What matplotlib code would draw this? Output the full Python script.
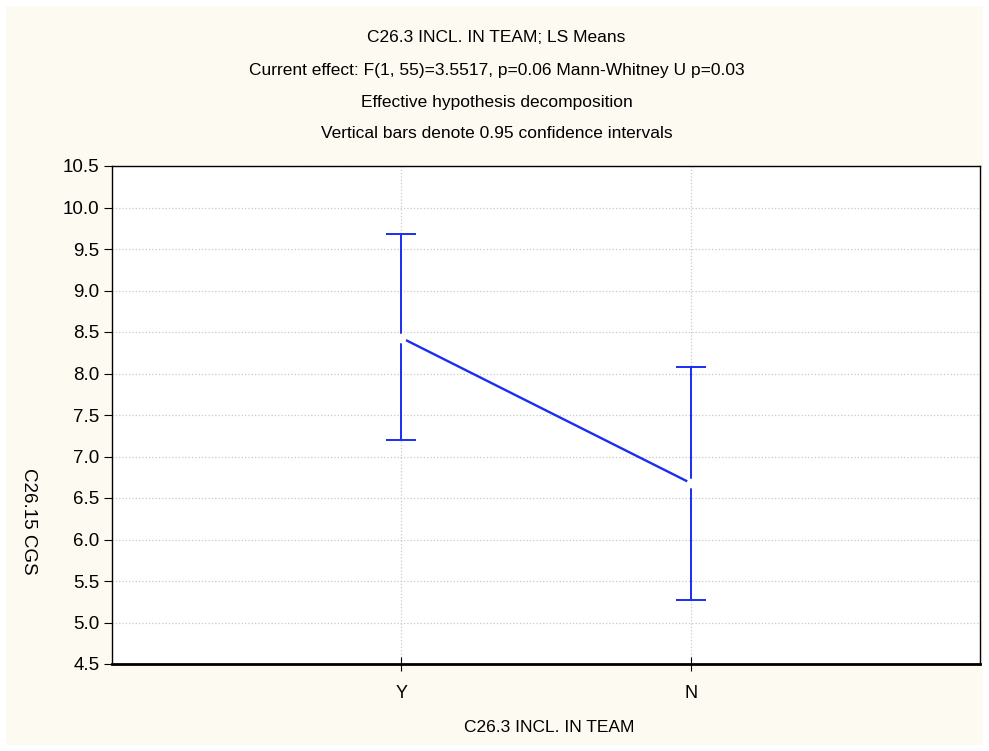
import matplotlib.pyplot as plt
import numpy as np

plt.rcParams['font.family'] = ['Liberation Sans', 'DejaVu Sans']

# data
groups = ['Y', 'N']
means = np.array([8.43, 6.68])
upper = np.array([9.68, 8.08])
lower = np.array([7.20, 5.27])

title_lines = ['C26.3 INCL. IN TEAM; LS Means',
               'Current effect: F(1, 55)=3.5517, p=0.06 Mann-Whitney U p=0.03',
               'Effective hypothesis decomposition',
               'Vertical bars denote 0.95 confidence intervals']

W, H = 989, 751
fig = plt.figure(figsize=(W / 100, H / 100), dpi=100)
fig.patch.set_facecolor('white')
# cream panel behind everything
bg = plt.Rectangle((6 / W, 6 / H), 1 - 12 / W, 1 - 12 / H, transform=fig.transFigure,
                   facecolor='#fdfaf1', edgecolor='none', zorder=-10)
fig.patches.append(bg)

ax = fig.add_axes([112 / W, 1 - 664 / H, (980 - 112) / W, (664 - 166) / H])
ax.set_facecolor('white')

x = np.arange(len(groups))
blue = '#1a2ef0'
ax.errorbar(x, means, yerr=[means - lower, upper - means], fmt='none',
            ecolor=blue, elinewidth=1.4, capsize=10.8, capthick=1.4, zorder=3)
ax.plot(x, means, color=blue, lw=1.7, zorder=4)
ax.plot(x, means, 'o', ms=6, mfc='white', mec='white', zorder=5)

ax.set_xlim(-1, 2)
ax.set_ylim(4.5, 10.5)
ax.set_xticks(x)
ax.set_xticklabels(groups)
ax.set_yticks(np.arange(4.5, 10.51, 0.5))
ax.set_yticklabels(['%.1f' % v for v in np.arange(4.5, 10.51, 0.5)])
ax.grid(True, ls=':', color='#c8c8c8', lw=0.9)
ax.set_axisbelow(True)
ax.tick_params(axis='y', direction='out', length=6, labelsize=13.5, pad=3)
ax.tick_params(axis='x', direction='inout', length=10, labelsize=13, pad=10)
for s in ax.spines.values():
    s.set_linewidth(1.0)
ax.spines['bottom'].set_linewidth(2.0)

for i, t in enumerate(title_lines):
    fig.text(0.5 + 2 / W, 1 - (38 + 32 * i) / H, t, ha='center', va='center', fontsize=12.5)

fig.text(549 / W, 1 - 728 / H, 'C26.3 INCL. IN TEAM', ha='center', va='center', fontsize=12.5)
fig.text(28 / W, 1 - 521 / H, 'C26.15 CGS', ha='center', va='center', rotation=-90, fontsize=13.5)

fig.savefig('out.png', dpi=100)
